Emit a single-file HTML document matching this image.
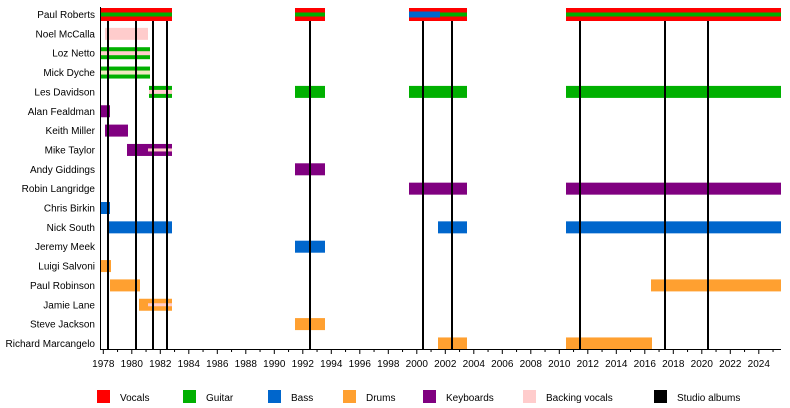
<!DOCTYPE html><html><head><style>body{margin:0;background:#fff}svg{display:block}text{font-family:"Liberation Sans",sans-serif;font-size:10px;fill:#000}</style></head><body>
<svg width="790" height="408" xmlns="http://www.w3.org/2000/svg">
<g id="bars"></g>
</svg>
<script>
const S='http://www.w3.org/2000/svg',svg=document.querySelector('svg');
function el(t,a,txt){const e=document.createElementNS(S,t);for(const k in a)e.setAttribute(k,a[k]);if(txt)e.textContent=txt;svg.appendChild(e);return e;}
const R='#ff0000',G='#00b000',B='#0066cc',O='#ffa030',P='#800080',K='#ffcccc';
const names=['Paul Roberts','Noel McCalla','Loz Netto','Mick Dyche','Les Davidson','Alan Fealdman','Keith Miller','Mike Taylor','Andy Giddings','Robin Langridge','Chris Birkin','Nick South','Jeremy Meek','Luigi Salvoni','Paul Robinson','Jamie Lane','Steve Jackson','Richard Marcangelo'];
const cy=i=>14.5+i*19.35;
names.forEach((n,i)=>el('text',{x:95,y:cy(i)+3.5,'text-anchor':'end'},n));
function bar(i,x1,x2,c){el('rect',{x:x1,y:cy(i)-6,width:x2-x1,height:12,fill:c});}
function str(i,x1,x2,c,h){h=h||4;el('rect',{x:x1,y:cy(i)-h/2,width:x2-x1,height:h,fill:c});}
[[100,172],[295,325],[409,467],[566,781]].forEach(s=>{el('rect',{x:s[0],y:8,width:s[1]-s[0],height:13,fill:R});str(0,s[0],s[1],G,4);});
str(0,409,440,B,6);
bar(1,105,148,K);
bar(2,100,150,G);str(2,100,150,K,4);
bar(3,100,150,G);str(3,100,150,'#f0e8c0',4);
bar(4,149,172,G);str(4,149,172,K,4);bar(4,295,325,G);bar(4,409,467,G);bar(4,566,781,G);
bar(5,100,110,P);bar(6,105,128,P);bar(7,127,172,P);str(7,148,172,K,3);
bar(8,295,325,P);bar(9,409,467,P);bar(9,566,781,P);
bar(10,100,110,B);bar(11,108,172,B);bar(11,438,467,B);bar(11,566,781,B);bar(12,295,325,B);
bar(13,100,111,O);bar(14,110,140,O);bar(14,651,781,O);bar(15,139,172,O);str(15,148,172,K,3);
bar(16,295,325,O);bar(17,438,467,O);bar(17,566,652,O);
[108,136,153,167,310,423,452,580,665,708].forEach(x=>el('rect',{x:x-1,y:21,width:2,height:328,fill:'#000'}));
el('rect',{x:100,y:7,width:1,height:342,fill:'#000'});
el('rect',{x:100,y:349,width:681,height:1,fill:'#000'});
for(let y=1978;y<=2025;y++){const x=103.3+(y-1978)*14.25;el('rect',{x:x-0.5,y:349,width:1,height:y%2==0?5:3,fill:'#000'});if(y%2==0)el('text',{x:x,y:367,'text-anchor':'middle'},String(y));}
[[97,R,'Vocals'],[183,G,'Guitar'],[268,B,'Bass'],[343,O,'Drums'],[423,P,'Keyboards'],[523,K,'Backing vocals'],[654,'#000','Studio albums']].forEach(l=>{el('rect',{x:l[0],y:390,width:13,height:13,fill:l[1]});el('text',{x:l[0]+23,y:401},l[2]);});
</script>
</body></html>
